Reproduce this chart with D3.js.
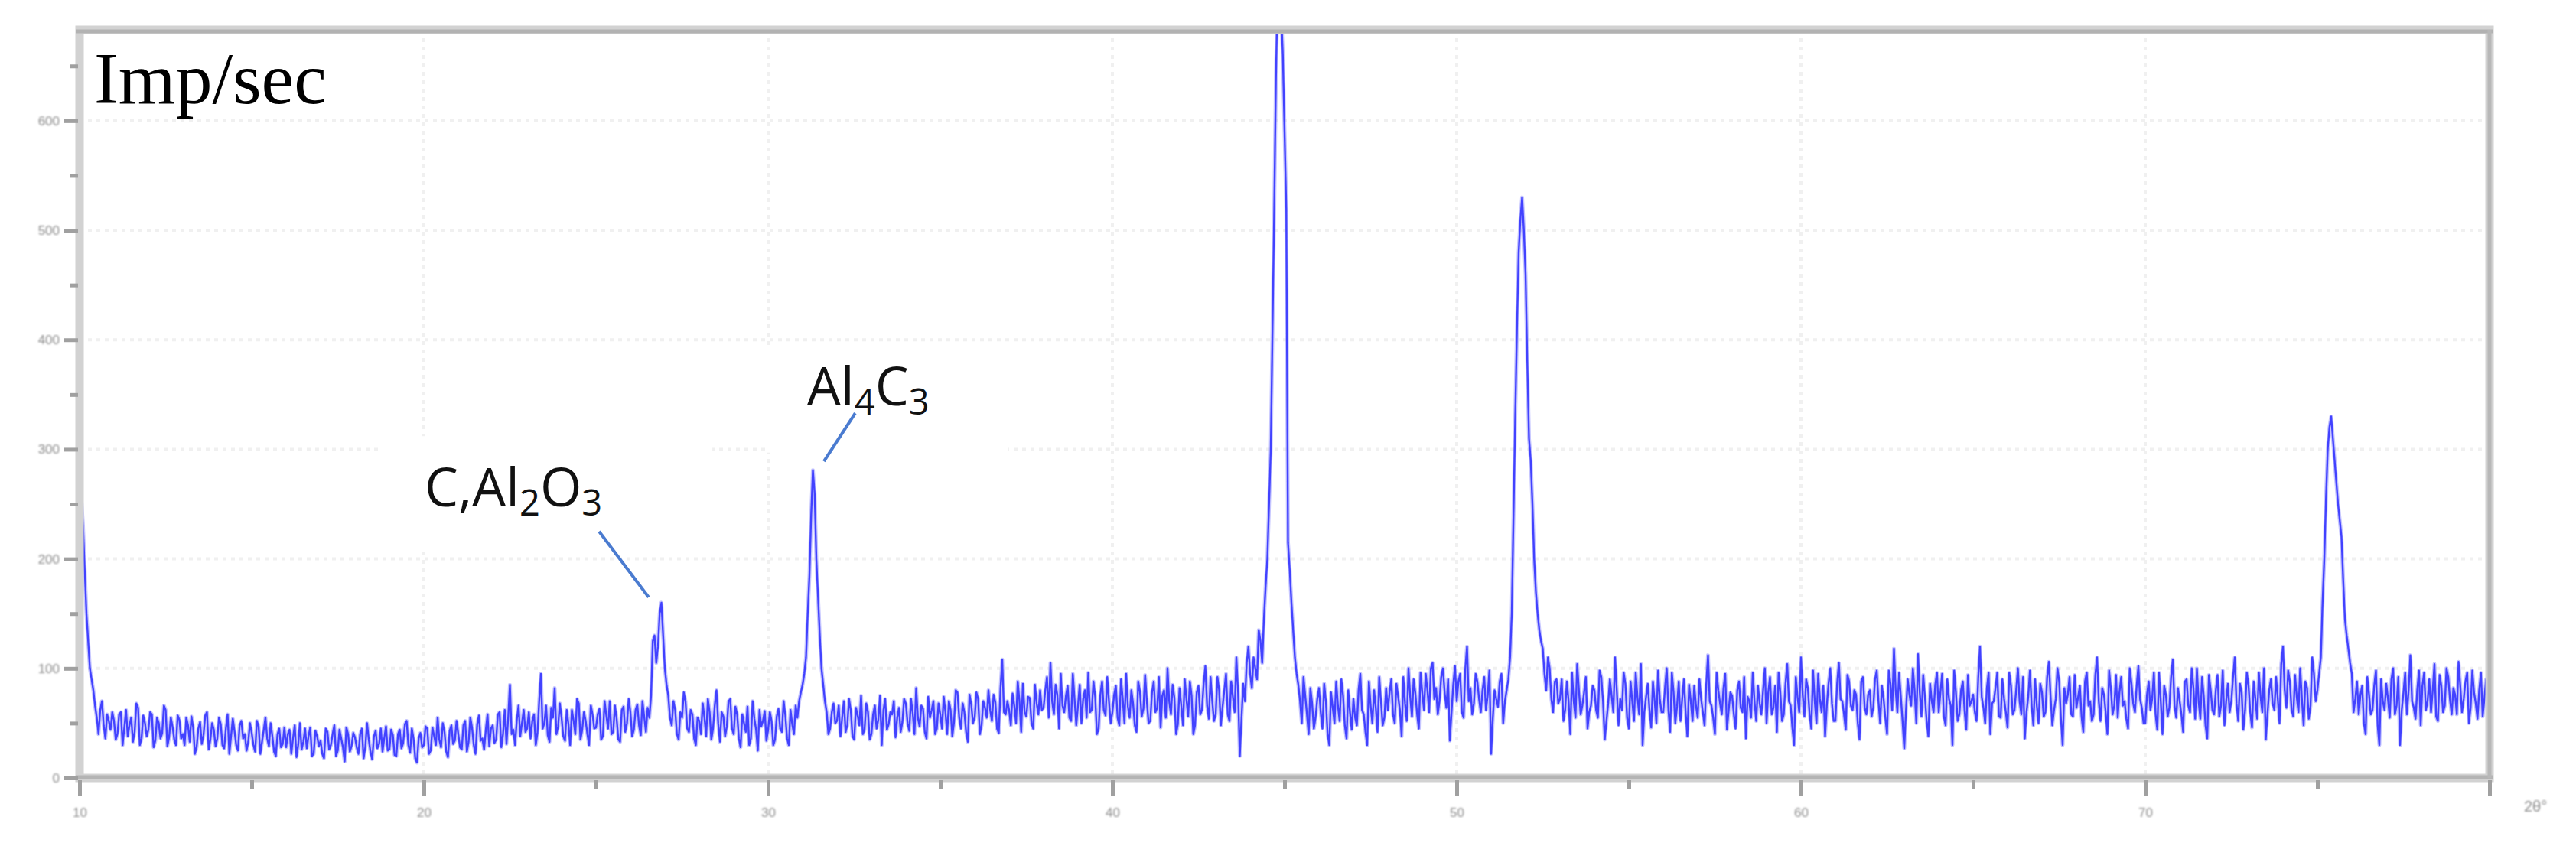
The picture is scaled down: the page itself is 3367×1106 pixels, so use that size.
<!DOCTYPE html>
<html><head><meta charset="utf-8">
<script src="https://cdn.jsdelivr.net/npm/d3@7"></script>
<style>html,body{margin:0;padding:0;background:#fff;} svg{display:block;}</style>
</head><body>
<svg id="chart" width="3367" height="1106"></svg>
<script>
// ---- data ----
const startAngle = 10;   // 2θ of first sample
const angleStep = 0.1;   // spacing of the samples in each list, degrees
// counts at 10.0, 10.1, ... 80.0
const intensity = [
 275,230,150,100,80,55,62,48,58,44,
 52,40,60,46,38,55,42,64,36,50,
 44,58,34,50,41,62,37,47,30,53,
 40,55,33,46,28,51,39,60,35,44,
 36,49,27,58,38,43,25,52,40,33,
 41,24,47,33,55,29,38,20,45,31,
 28,44,36,19,50,33,27,46,22,38,
 34,18,42,30,48,25,36,15,40,29,
 37,22,45,28,35,17,43,31,24,47,
 26,39,20,44,32,52,23,36,14,41,
 30,45,25,38,55,28,42,19,48,34,
 40,26,52,33,46,22,57,36,44,29,
 48,35,60,40,31,85,44,53,38,62,
 45,36,58,41,95,50,39,64,82,47,
 55,34,49,62,40,68,44,52,30,58,
 46,63,38,57,70,42,54,33,65,50,
 60,44,67,39,56,64,75,130,120,160,
 100,75,48,62,35,55,70,42,58,30,
 52,68,38,60,45,80,33,56,47,72,
 40,58,28,50,65,36,54,25,47,61,
 44,52,35,63,42,57,30,49,66,70,
 85,110,185,281,200,130,85,60,45,68,
 52,38,70,48,62,35,57,75,44,60,
 40,66,53,30,72,49,58,37,64,51,
 68,43,59,82,47,63,36,55,70,45,
 58,74,40,62,51,78,45,60,33,67,
 55,72,48,64,80,52,69,41,108,58,
 62,77,50,70,86,56,73,45,68,80,
 64,92,105,58,76,95,60,84,52,72,
 66,50,80,96,62,74,45,88,57,70,
 60,84,48,72,95,55,68,42,79,63,
 70,52,88,64,46,80,100,58,73,49,
 66,90,56,75,48,84,62,102,54,70,
 58,80,65,95,52,74,110,20,86,105,
 95,110,90,125,145,200,300,520,720,700,
 590,215,160,110,85,50,75,40,68,55,
 82,45,70,30,64,88,52,75,36,60,
 72,48,95,58,30,66,80,42,70,55,
 62,90,50,74,38,68,100,56,77,45,
 78,95,60,105,82,70,100,64,34,85,
 70,95,55,120,82,68,88,60,92,75,
 22,80,65,95,70,90,150,330,480,530,
 460,310,250,170,135,118,80,100,60,90,
 72,52,88,40,70,104,58,78,45,66,
 80,55,92,35,68,75,110,48,62,86,
 45,70,96,58,30,74,62,88,50,72,
 60,100,42,78,65,52,90,38,70,84,
 55,72,48,112,66,40,80,58,95,62,
 75,45,88,60,36,70,96,52,68,80,
 50,92,64,42,78,58,104,66,30,74,
 110,56,82,45,70,95,60,38,86,68,
 52,105,70,44,88,62,76,35,92,58,
 80,64,98,50,72,40,86,118,60,74,
 27,90,66,80,113,56,74,38,70,85,
 60,95,48,72,30,78,58,88,44,66,
 76,52,120,64,82,40,70,96,55,72,
 46,84,62,100,58,36,74,66,90,50,
 78,60,106,48,72,88,30,68,92,56,
 64,84,42,96,70,58,110,52,76,40,
 82,66,55,92,70,45,86,60,102,64,
 50,88,72,58,96,40,76,64,108,55,
 70,42,90,60,82,100,54,74,36,80,
 58,94,66,48,86,70,110,52,78,62,
 84,46,72,96,60,35,80,68,92,50,
 120,64,88,56,74,100,48,82,66,95,
 80,110,200,300,330,290,250,220,145,118,
 95,72,58,84,40,76,62,98,30,70,
 86,55,100,66,30,78,58,112,64,80,
 48,96,70,60,104,52,84,66,92,58,
 76,106,60,88,50,98,68,80,56,90,
 70
];
// counts at the in-between angles 10.05, 10.15, ... 79.95
const intensityMid = [
 255,190,125,90,66,40,70,36,52,60,
 35,58,30,62,48,33,68,30,57,38,
 60,28,55,36,66,29,55,35,57,36,
 30,48,56,22,45,31,57,26,50,29,
 55,30,45,22,54,30,48,36,25,50,
 30,52,22,44,36,50,24,40,28,46,
 40,22,48,30,26,45,38,20,43,29,
 22,45,26,40,20,44,28,46,24,41,
 28,40,18,50,24,38,27,45,36,25,
 44,21,40,27,49,30,45,18,36,28,
 47,22,46,30,35,50,24,43,31,52,
 28,48,24,55,30,49,34,26,58,45,
 32,58,28,62,55,40,30,66,50,42,
 60,52,30,70,45,66,33,55,40,68,
 38,62,30,52,72,35,60,40,66,45,
 58,35,70,45,40,66,35,62,42,72,
 38,62,48,70,42,55,125,105,150,130,
 85,55,70,40,60,78,45,62,36,55,
 40,55,72,35,66,50,60,38,70,45,
 65,36,58,42,30,70,44,62,52,34,
 60,30,56,45,70,36,62,40,55,78,
 95,150,240,260,165,100,70,40,60,50,
 66,55,42,72,38,64,48,40,68,35,
 58,45,75,62,44,60,70,55,42,72,
 50,72,40,55,66,42,74,62,40,68,
 45,60,70,38,80,55,68,42,76,50,
 78,40,70,55,62,76,45,82,60,70,
 48,66,88,42,60,74,50,85,58,62,
 80,55,70,85,45,66,75,55,95,48,
 85,72,55,60,88,40,76,62,92,50,
 76,55,90,50,65,80,48,88,56,94,
 50,78,60,92,75,55,70,85,40,82,
 48,72,88,40,78,58,86,66,92,52,
 92,48,80,58,88,60,78,55,70,120,
 82,100,135,105,175,250,410,640,740,660,
 520,190,135,95,70,92,58,82,45,72,
 60,86,40,78,50,66,90,48,80,44,
 55,80,62,42,88,50,64,92,48,82,
 78,58,86,62,92,52,74,90,58,96,
 62,80,100,72,58,92,78,90,60,102,
 88,60,100,70,58,95,72,80,62,98,
 55,72,88,50,80,110,240,410,510,500,
 380,290,200,150,125,95,110,72,88,68,
 90,62,70,96,55,80,66,92,60,84,
 62,98,70,52,90,60,80,72,96,55,
 88,52,74,104,60,86,46,70,98,60,
 82,62,96,50,88,72,60,85,52,66,
 90,60,86,70,55,96,68,82,44,78,
 58,80,64,92,74,55,70,84,58,100,
 78,58,84,96,52,86,70,46,92,60,
 76,90,58,98,50,72,84,66,100,52,
 86,72,58,94,66,80,50,88,64,76,
 56,90,70,84,55,98,62,80,96,52,
 62,76,100,50,78,94,52,86,60,96,
 78,56,90,66,98,52,80,62,94,70,
 60,92,74,50,96,68,82,56,90,60,
 96,58,80,70,92,60,98,48,66,86,
 56,92,74,62,100,54,82,76,58,94,
 74,56,88,66,52,94,70,82,60,98,
 58,94,78,66,54,100,68,84,72,50,
 76,62,96,44,70,84,56,92,66,82,
 58,88,66,100,54,70,92,48,94,62,
 80,56,98,70,60,92,68,86,44,96,
 60,88,54,74,100,58,90,62,72,104,
 80,98,62,94,60,72,88,54,110,70,
 95,160,255,320,310,270,235,180,130,105,
 60,88,76,50,92,58,84,48,90,62,
 72,90,58,92,62,96,80,70,54,98,
 84,62,90,80,56,94,60,100,72,82,
 58,84,72,96,64,78,54,96,72,62
];
const xDomain = [10, 80];
const yDomain = [0, 683];
const xMajorTicks = [10, 20, 30, 40, 50, 60, 70, 80];
const xTickLabels = ["10", "20", "30", "40", "50", "60", "70", ""];
const xMinorTicks = [15, 25, 35, 45, 55, 65, 75];
const yMajorTicks = [0, 100, 200, 300, 400, 500, 600];
const yTickLabels = ["0", "100", "200", "300", "400", "500", "600"];
const yMinorTicks = [50, 150, 250, 350, 450, 550, 650];
const xGridValues = [20, 30, 40, 50, 60, 70];
const yGridValues = [100, 200, 300, 400, 500, 600];
const yUnitLabel = "Imp/sec";
const xUnitLabel = "2θ°";
// annotation: label parts [text, isSubscript], anchor in data coords, leader line in data coords
const annotationLabels = [
  [["C,Al", false], ["2", true], ["O", false], ["3", true]],
  [["Al", false], ["4", true], ["C", false], ["3", true]]
];
const annotationAnchors = [[20.02, 248], [31.13, 340]];
const annotationLeaders = [[[25.09, 225], [26.53, 165]], [[32.53, 333], [31.62, 289]]];
const annotationBoxes = [[[18.76, 312], [28.38, 209]], [[29.91, 392], [36.98, 297]]];

// ---- layout ----
const W = 3367, H = 1106;
const pL = 104, pR = 3254, pT = 39, pB = 1017;
const svg = d3.select("#chart");
svg.append("rect").attr("width", W).attr("height", H).attr("fill", "#fff");

const x = d3.scaleLinear().domain(xDomain).range([pL, pR]);
const y = d3.scaleLinear().domain(yDomain).range([pB, pT]);

const defs = svg.append("defs");
defs.append("clipPath").attr("id", "plotclip").append("rect")
  .attr("x", pL).attr("y", pT).attr("width", pR - pL).attr("height", pB - pT);
const soft = defs.append("filter").attr("id", "soft").attr("x", "-5%").attr("y", "-5%").attr("width", "110%").attr("height", "110%");
soft.append("feGaussianBlur").attr("stdDeviation", 0.7);
const blurTxt = defs.append("filter").attr("id", "blurTxt").attr("x", "-20%").attr("y", "-20%").attr("width", "140%").attr("height", "140%");
blurTxt.append("feGaussianBlur").attr("stdDeviation", 1.1);

// gridlines
const grid = svg.append("g").attr("stroke", "#f0f0f0").attr("stroke-width", 4).attr("stroke-dasharray", "5 6");
grid.selectAll("line.gx").data(xGridValues).join("line").attr("class", "gx")
  .attr("x1", d => x(d)).attr("x2", d => x(d)).attr("y1", pT).attr("y2", pB);
grid.selectAll("line.gy").data(yGridValues).join("line").attr("class", "gy")
  .attr("x1", pL).attr("x2", pR).attr("y1", d => y(d)).attr("y2", d => y(d));

// annotation background boxes (hide gridlines behind labels)
svg.append("g").selectAll("rect").data(annotationBoxes).join("rect")
  .attr("x", d => x(d[0][0])).attr("y", d => y(d[0][1]))
  .attr("width", d => x(d[1][0]) - x(d[0][0])).attr("height", d => y(d[1][1]) - y(d[0][1]))
  .attr("fill", "#fff");

// data line: merge the two sample lists in angle order
const pts = [];
intensity.forEach((v, i) => {
  pts.push([startAngle + i * angleStep, v]);
  if (i < intensityMid.length) pts.push([startAngle + (i + 0.5) * angleStep, intensityMid[i]]);
});
const line = d3.line().x(d => x(d[0])).y(d => y(d[1]));
const lg = svg.append("g").attr("clip-path", "url(#plotclip)");
lg.append("path").datum(pts).attr("d", line).attr("fill", "none")
  .attr("stroke", "#9595ff").attr("stroke-width", 5).attr("stroke-linejoin", "round").attr("opacity", 0.55);
lg.append("path").datum(pts).attr("d", line).attr("fill", "none")
  .attr("stroke", "#2828ff").attr("stroke-width", 2.4).attr("stroke-linejoin", "round")
  .attr("opacity", 0.82).attr("filter", "url(#soft)");

// frame
svg.append("rect").attr("x", pL).attr("y", pT).attr("width", pR - pL).attr("height", pB - pT)
  .attr("fill", "none").attr("stroke", "#d2d2d2").attr("stroke-width", 11);
svg.append("line").attr("x1", pL - 5).attr("x2", pR + 5).attr("y1", pT + 2).attr("y2", pT + 2)
  .attr("stroke", "#b2b2b2").attr("stroke-width", 5);
svg.append("line").attr("x1", pL - 5).attr("x2", pR + 5).attr("y1", pB - 1).attr("y2", pB - 1)
  .attr("stroke", "#b4b4b4").attr("stroke-width", 5);
svg.append("line").attr("x1", pR).attr("x2", pR).attr("y1", pT).attr("y2", pB)
  .attr("stroke", "#b8b8b8").attr("stroke-width", 5);

// axes via d3
const xAxisMajor = d3.axisBottom(x).tickValues(xMajorTicks).tickSize(20).tickPadding(16)
  .tickFormat((d, i) => xTickLabels[i]);
const gx = svg.append("g").attr("transform", `translate(0,${pB + 3})`).call(xAxisMajor);
const xAxisMinor = d3.axisBottom(x).tickValues(xMinorTicks).tickSize(12).tickFormat("");
const gxm = svg.append("g").attr("transform", `translate(0,${pB + 3})`).call(xAxisMinor);
const yAxisMajor = d3.axisLeft(y).tickValues(yMajorTicks).tickSize(18).tickPadding(6)
  .tickFormat((d, i) => yTickLabels[i]);
const gy = svg.append("g").attr("transform", `translate(${pL - 2},0)`).call(yAxisMajor);
const yAxisMinor = d3.axisLeft(y).tickValues(yMinorTicks).tickSize(11).tickFormat("");
const gym = svg.append("g").attr("transform", `translate(${pL - 2},0)`).call(yAxisMinor);
[gx, gxm, gy, gym].forEach(g => {
  g.select(".domain").remove();
  g.selectAll(".tick line").attr("stroke", "#a0a0a0").attr("stroke-width", 5);
  g.selectAll(".tick text").attr("fill", "#8c8c8c").attr("font-family", "Liberation Sans, Arial, sans-serif")
    .attr("font-size", 17).attr("filter", "url(#blurTxt)");
});

// x unit label
svg.append("text").attr("x", pR + 45).attr("y", pB + 44)
  .attr("text-anchor", "start").attr("font-family", "Liberation Sans, Arial, sans-serif")
  .attr("font-size", 20).attr("fill", "#8c8c8c").attr("filter", "url(#blurTxt)").text(xUnitLabel);

// y unit label
svg.append("text").attr("x", x(10.42)).attr("y", y(616))
  .attr("font-family", "Liberation Serif, Times New Roman, serif").attr("font-size", 96)
  .attr("fill", "#000").text(yUnitLabel);

// annotations
annotationLeaders.forEach(seg => {
  svg.append("line").attr("x1", x(seg[0][0])).attr("y1", y(seg[0][1]))
    .attr("x2", x(seg[1][0])).attr("y2", y(seg[1][1]))
    .attr("stroke", "#4a7bd0").attr("stroke-width", 4);
});
annotationLabels.forEach((parts, i) => {
  const t = svg.append("text").attr("x", x(annotationAnchors[i][0])).attr("y", y(annotationAnchors[i][1]))
    .attr("font-family", "Open Sans, Noto Sans, sans-serif").attr("font-size", 70).attr("fill", "#111");
  let shifted = false;
  parts.forEach(([s, sub]) => {
    const ts = t.append("tspan").text(s);
    if (sub) { ts.attr("font-size", 47).attr("dy", shifted ? 0 : 12); shifted = true; }
    else { ts.attr("dy", shifted ? -12 : 0); shifted = false; }
  });
});
</script>
</body></html>
